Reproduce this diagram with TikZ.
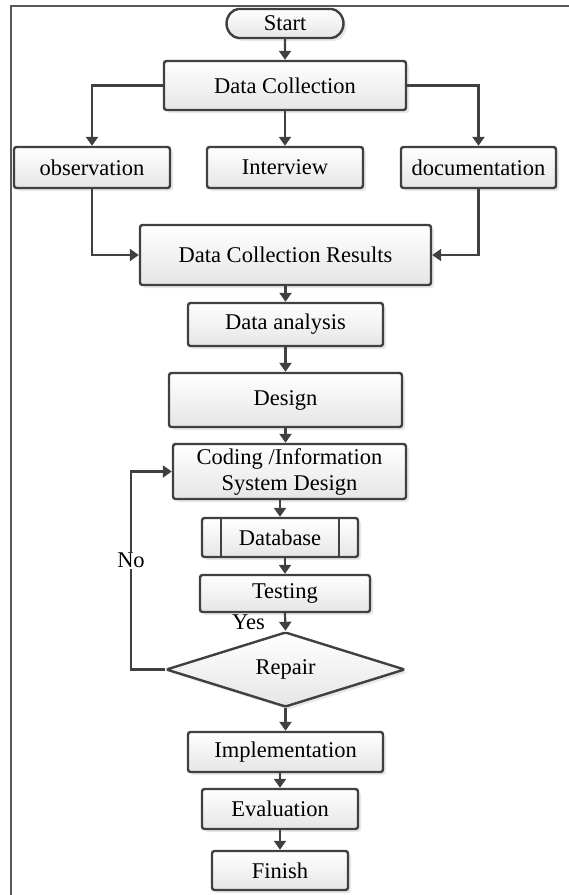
\documentclass[tikz,border=0pt]{standalone}
\usepackage{fontspec}
\setmainfont{Liberation Serif}
\usetikzlibrary{arrows.meta,shapes.geometric,shapes.misc,shadows}
\begin{document}
\begin{tikzpicture}[x=1pt,y=-1pt,
    font=\fontsize{22.5}{26}\selectfont,
    boxstyle/.style={rectangle,rounded corners=2.5pt,draw=black!75,line width=2.4pt,
        top color=white,bottom color=black!10,inner sep=0pt,
        drop shadow={shadow xshift=3pt,shadow yshift=-3pt,opacity=0.18}},
    startstyle/.style={boxstyle,rounded rectangle},
    decisionstyle/.style={boxstyle,diamond,rounded corners=1.5pt,aspect=3.2},
    arrowstyle/.style={draw=black!75,line width=2.2pt,-{Triangle[length=9pt,width=12pt]}}]
\useasboundingbox (0,0) rectangle (569,895);
\draw[black!65,line width=1.4pt] (11,895) -- (11,6) -- (569,6);

\node[startstyle,minimum width=117,minimum height=29] (start) at (285,23.5) {Start};
\node[boxstyle,minimum width=242,minimum height=49] (collect) at (285,85.5) {Data Collection};
\node[boxstyle,minimum width=156,minimum height=41] (observe) at (92,167.5) {observation};
\node[boxstyle,minimum width=156,minimum height=41] (interview) at (285,167.5) {Interview};
\node[boxstyle,minimum width=155,minimum height=41] (document) at (478.5,167.5) {documentation};
\node[boxstyle,minimum width=291,minimum height=60] (results) at (285.5,255) {Data Collection Results};
\node[boxstyle,minimum width=195,minimum height=43] (analysis) at (285.5,324.5) {Data analysis};
\node[boxstyle,minimum width=233,minimum height=54] (design) at (285.5,400) {Design};
\node[boxstyle,minimum width=233,minimum height=55,align=center] (coding) at (289.5,471.5) {Coding /Information\\System Design};
\node[boxstyle,minimum width=156,minimum height=39] (database) at (280,537.5) {Database};
\draw[black!75,line width=2.4pt] ([xshift=20pt]database.north west) -- ([xshift=20pt]database.south west)
    ([xshift=-20pt]database.north east) -- ([xshift=-20pt]database.south east);
\node[boxstyle,minimum width=170,minimum height=37] (testing) at (285,593.5) {Testing};
\node[decisionstyle,minimum width=239,minimum height=75] (repair) at (285.5,669.5) {Repair};
\node[boxstyle,minimum width=195,minimum height=40] (implement) at (285.5,752) {Implementation};
\node[boxstyle,minimum width=156,minimum height=40] (evaluate) at (280,809) {Evaluation};
\node[boxstyle,minimum width=136,minimum height=39] (finish) at (280,870.5) {Finish};
\coordinate (loopcorner) at (131,669.5);

\draw[arrowstyle] (start) -- (collect);
\draw[arrowstyle] (collect.west) -| (observe.north);
\draw[arrowstyle] (collect) -- (interview);
\draw[arrowstyle] (collect.east) -| (document.north);
\draw[arrowstyle] (observe.south) |- (results.west);
\draw[arrowstyle] (document.south) |- (results.east);
\draw[arrowstyle] (results) -- (analysis);
\draw[arrowstyle] (analysis) -- (design);
\draw[arrowstyle] (design.south) -- (design.south |- coding.north);
\draw[arrowstyle] (database.north |- coding.south) -- (database.north);
\draw[arrowstyle] (testing.north |- database.south) -- (testing.north);
\draw[arrowstyle] (testing.south) -- node[left=16pt,pos=0.5] (yes) {Yes} (repair.north);
\draw[arrowstyle] (repair.west) -- (loopcorner) -- node[fill=white,inner sep=1pt,pos=0.55] (no) {No} (loopcorner |- coding.west) -- (coding.west);
\draw[arrowstyle] (repair.south) -- (implement.north);
\draw[arrowstyle] (evaluate.north |- implement.south) -- (evaluate.north);
\draw[arrowstyle] (evaluate) -- (finish);
\end{tikzpicture}
\end{document}
